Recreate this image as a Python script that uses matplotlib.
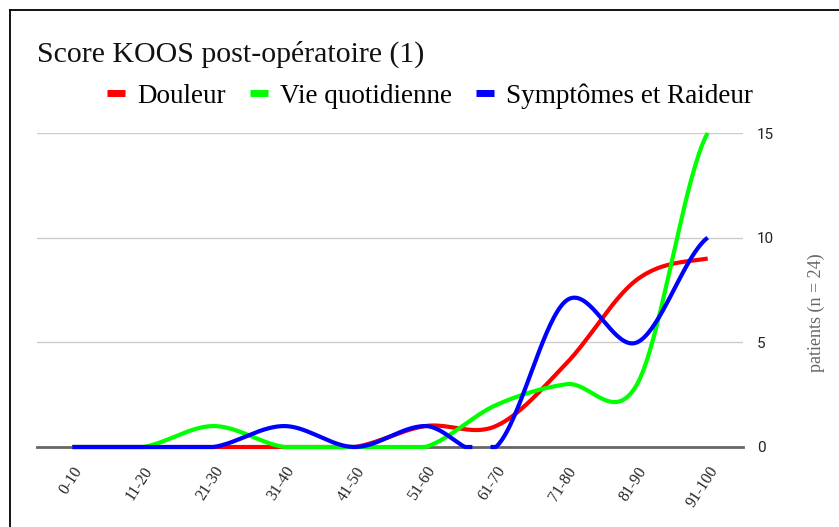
import numpy as np
import matplotlib.pyplot as plt
from matplotlib.lines import Line2D

# Categories and patient counts per score band
categories = ["0-10", "11-20", "21-30", "31-40", "41-50",
              "51-60", "61-70", "71-80", "81-90", "91-100"]
douleur = [0, 0, 0, 0, 0, 1, 1, 4, 8, 9]
vie_quotidienne = [0, 0, 1, 0, 0, 0, 2, 3, 3, 15]
symptomes = [0, 0, 0, 1, 0, 1, 0, 7, 5, 10]

series_names = ["Douleur", "Vie quotidienne", "Symptômes et Raideur"]
series_colors = ["#ff0000", "#00ff00", "#0000ff"]
y_ticks = [0, 5, 10, 15]


def smooth(values, steps=40):
    """Catmull-Rom style curve through the points (like curveType 'function')."""
    y = np.asarray(values, dtype=float)
    x = np.arange(len(y), dtype=float)
    xs, ys = [], []
    for i in range(len(y) - 1):
        y0 = y[i - 1] if i > 0 else y[i]
        y3 = y[i + 2] if i + 2 < len(y) else y[i + 1]
        p0, p3 = y[i], y[i + 1]
        p1 = p0 + (p3 - y0) / 6.0
        p2 = p3 - (y3 - p0) / 6.0
        t = np.linspace(0, 1, steps)
        b = ((1 - t) ** 3 * p0 + 3 * (1 - t) ** 2 * t * p1
             + 3 * (1 - t) * t ** 2 * p2 + t ** 3 * p3)
        xs.append(x[i] + t)
        ys.append(b)
    xs, ys = np.concatenate(xs), np.concatenate(ys)
    # the chart area hides whatever dips under the baseline
    ys[ys < -0.2] = np.nan
    ys[ys < 0] = 0
    return xs, ys


fig = plt.figure(figsize=(8.39, 5.27), dpi=100)
ax = fig.add_axes([37 / 839, 80 / 527, 706 / 839, 314 / 527])

ax.set_xlim(-0.5, len(categories) - 0.5)
ax.set_ylim(0, 15)

# gridlines and baseline
for v in y_ticks[1:]:
    ax.axhline(v, color="#cccccc", lw=1.0, zorder=1)
ax.axhline(0, color="#666666", lw=2.0, zorder=2, clip_on=False)

for vals, col in zip([douleur, vie_quotidienne, symptomes], series_colors):
    xs, ys = smooth(vals)
    ax.plot(xs, ys, color=col, lw=3.0, solid_capstyle="butt", zorder=3,
            clip_on=False)

for s in ax.spines.values():
    s.set_visible(False)

ax.set_xticks(range(len(categories)))
ax.set_xticklabels(categories, rotation=57, ha="right", rotation_mode="anchor",
                   family="Liberation Serif", fontsize=11.5, color="#222222")
ax.tick_params(axis="x", length=0, pad=12)

ax.yaxis.tick_right()
ax.set_yticks(y_ticks)
ax.set_yticklabels([str(v) for v in y_ticks], family="Roboto", fontsize=11,
                   color="#222222")
ax.tick_params(axis="y", length=0, pad=10)

fig.text(816 / 839, 1 - 313 / 527, "patients (n = 24)", rotation=90,
         ha="center", va="center", family="Liberation Serif", fontsize=13,
         color="#666666")

fig.text(37 / 839, 1 - 62 / 527, "Score KOOS post-opératoire (1)",
         family="Liberation Serif", fontsize=21.5, color="#111111",
         ha="left", va="baseline")

handles = [Line2D([], [], color=c, lw=5, solid_capstyle="butt")
           for c in series_colors]
fig.legend(handles, series_names, loc="center", ncol=3,
           bbox_to_anchor=(430 / 839, 1 - 96 / 527), frameon=False,
           handlelength=0.65, handletextpad=0.45, columnspacing=0.9,
           prop={"family": "Liberation Serif", "size": 19.5})

# frame of the screenshot (top and left edges only)
fig.add_artist(Line2D([10 / 839, 10 / 839], [0, 1 - 10 / 527], color="black",
                      lw=1.3, transform=fig.transFigure))
fig.add_artist(Line2D([10 / 839, 1], [1 - 10 / 527, 1 - 10 / 527],
                      color="black", lw=1.3, transform=fig.transFigure))

fig.savefig("out.png", dpi=100)
